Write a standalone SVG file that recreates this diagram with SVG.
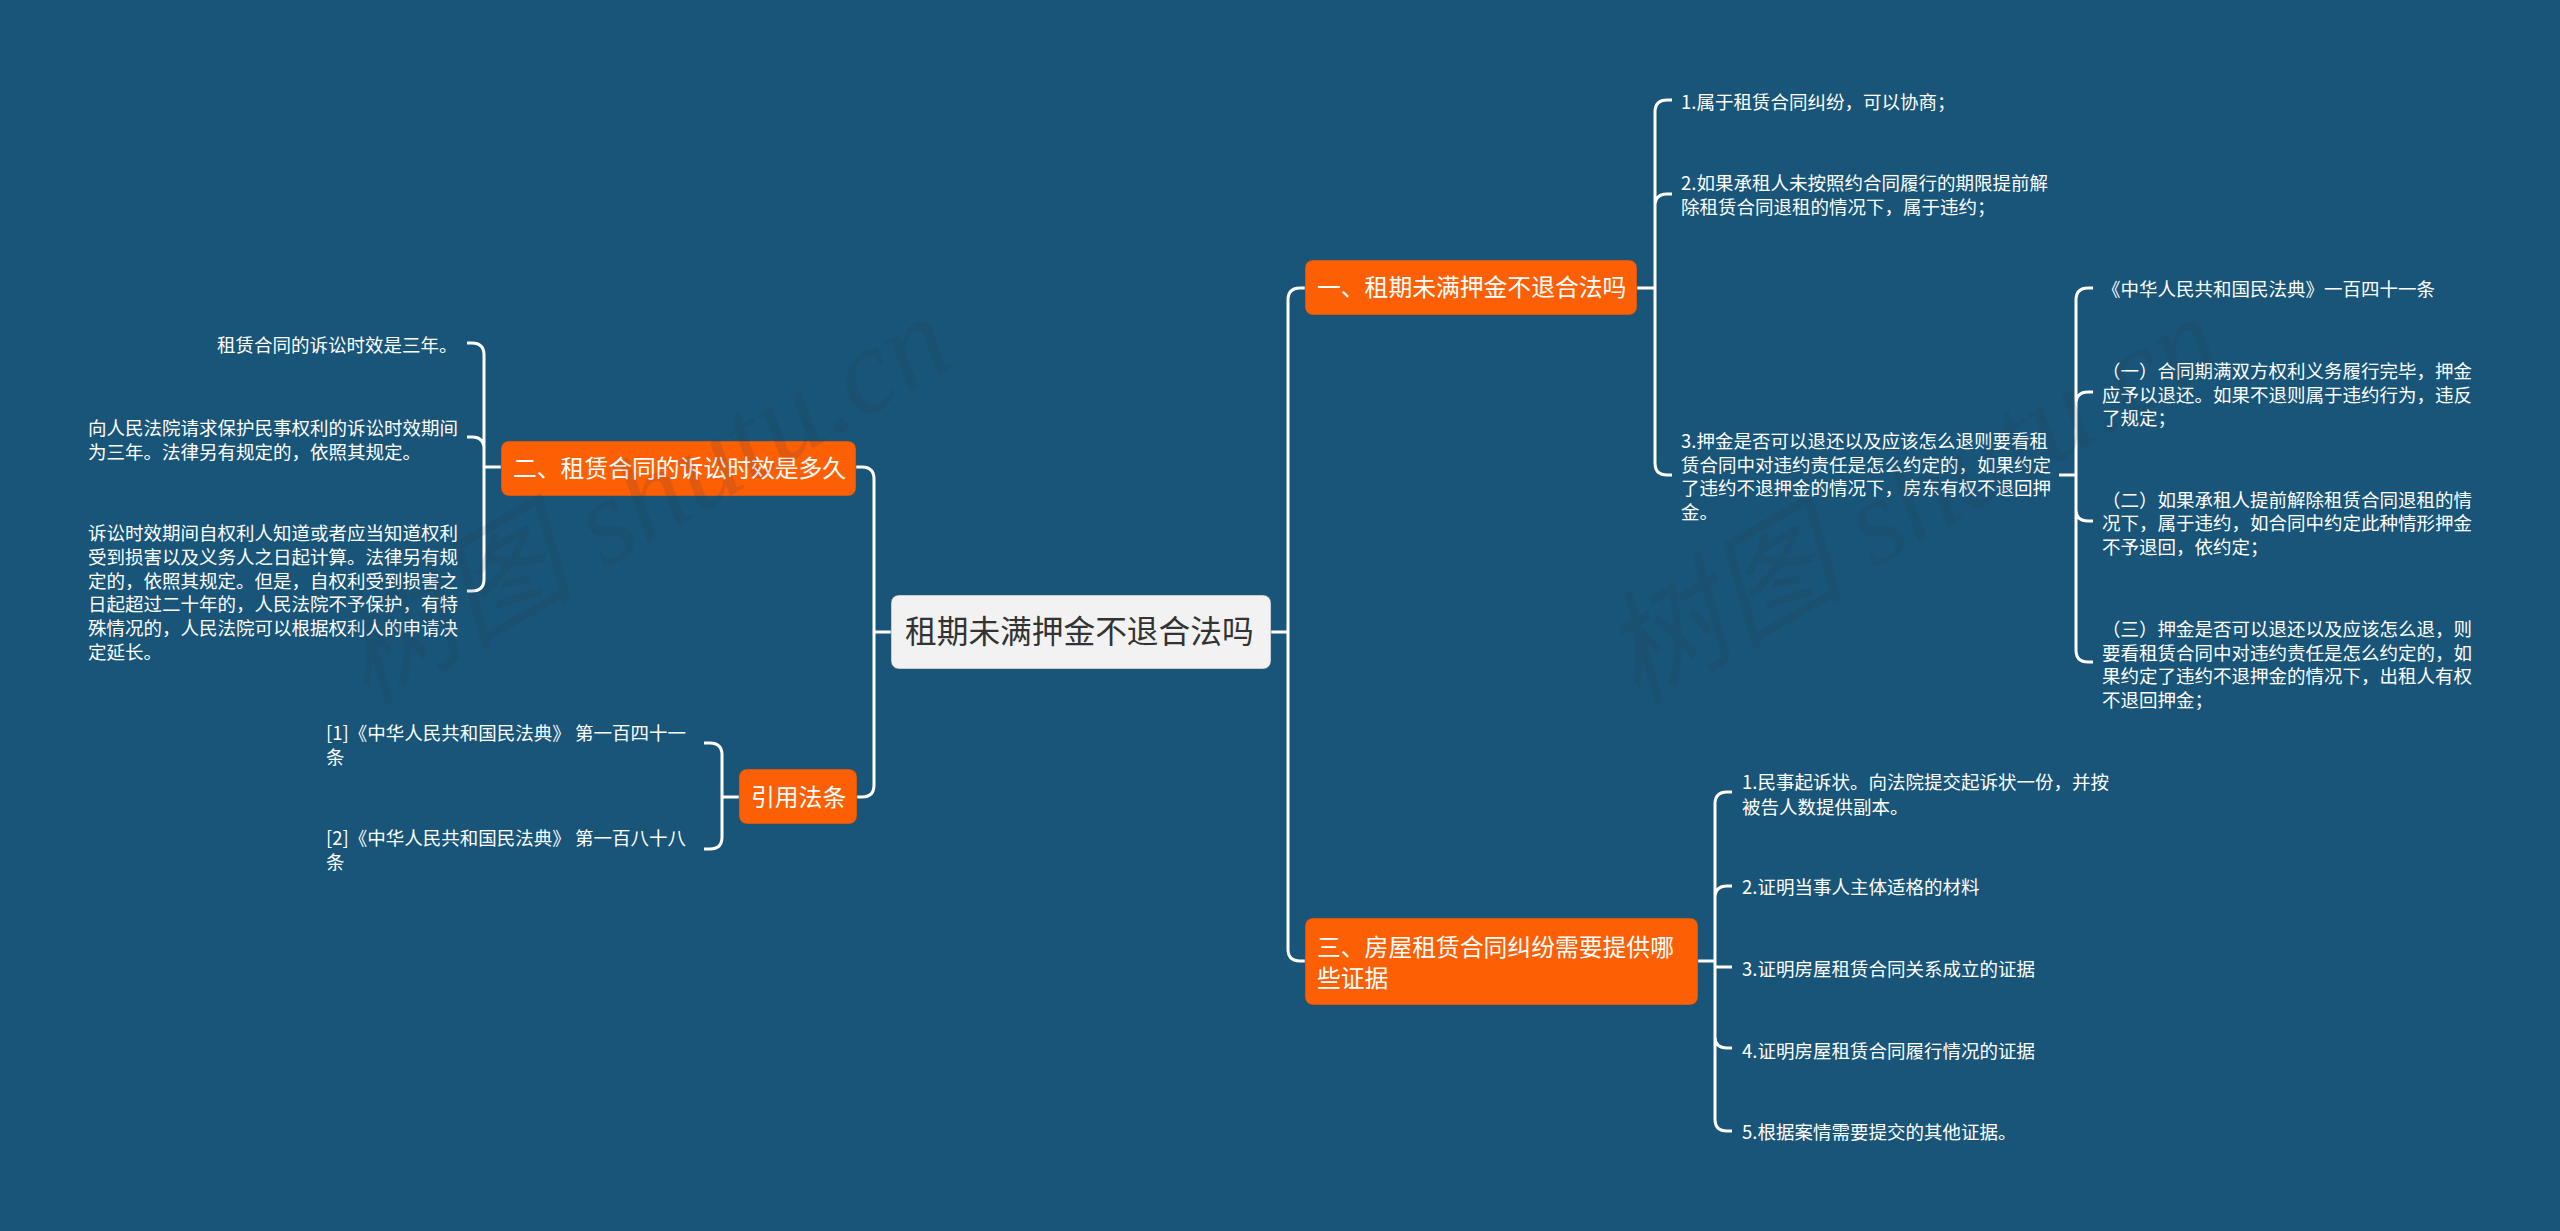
<svg xmlns="http://www.w3.org/2000/svg" width="2560" height="1231" viewBox="0 0 2560 1231">
<style>
text{font-family:"Noto Sans CJK SC","Liberation Sans",sans-serif}
.leaf{font-size:18.5px;fill:#fff}
.sec{font-size:23.8px;fill:#fff}
.root{font-size:31.7px;fill:#333}
.box{fill:#fd5f05;stroke:#3f4c58;stroke-width:1;stroke-opacity:.5}
.rootbox{fill:#f2f2f2;stroke:#3f5c70;stroke-width:1;stroke-opacity:.5}
#connectors path{fill:none;stroke:#fff;stroke-width:3;stroke-linecap:butt}
.wm{font-family:"Liberation Serif","Noto Sans CJK SC",serif;font-style:italic;font-size:122px;fill:#2a3a4a;fill-opacity:.14}
</style>
<rect width="2560" height="1231" fill="#185579"/>
<g id="connectors">
<path d="M1271 632H1288M1305 288H1300Q1288 288 1288 300V949Q1288 961 1300 961H1305"/>
<path d="M891 632H874M856 467H862Q874 467 874 479V785Q874 797 862 797H857"/>
<path d="M1637 288H1655M1672 100H1667Q1655 100 1655 112V463Q1655 475 1667 475H1672M1672 194H1667Q1655 194 1655 206"/>
<path d="M2059 475H2076M2093 288H2088Q2076 288 2076 300V650Q2076 662 2088 662H2093M2093 392H2088Q2076 392 2076 404M2093 521H2088Q2076 521 2076 509"/>
<path d="M501 467H484M467 343H472Q484 343 484 355V579Q484 591 472 591H467M467 437H472Q484 437 484 449"/>
<path d="M739 797H722M704 743H710Q722 743 722 755V837Q722 849 710 849H704"/>
<path d="M1698 961H1715M1732 792H1727Q1715 792 1715 804V1119Q1715 1131 1727 1131H1732M1732 886H1727Q1715 886 1715 898M1732 967H1715M1732 1048H1727Q1715 1048 1715 1036"/>
</g>
<g id="root"><rect class="rootbox" x="891" y="595" width="380" height="74" rx="8"/><text class="root" x="905" y="643">租期未满押金不退合法吗</text></g>
<g id="sec1"><rect class="box" x="1305" y="260" width="332" height="55" rx="8"/><text class="sec" x="1317" y="296">一、租期未满押金不退合法吗</text></g>
<g id="sec2"><rect class="box" x="501" y="441" width="355" height="55" rx="8"/><text class="sec" x="513" y="477">二、租赁合同的诉讼时效是多久</text></g>
<g id="sec3"><rect class="box" x="1305" y="918" width="393" height="87" rx="8"/><text class="sec"><tspan x="1317" y="955.500">三、房屋租赁合同纠纷需要提供哪</tspan><tspan x="1317" y="986.500">些证据</tspan></text></g>
<g id="refs"><rect class="box" x="739" y="769" width="118" height="55" rx="8"/><text class="sec" x="751" y="805.500">引用法条</text></g>
<g id="a1"><text class="leaf" x="1681" y="108.500">1.属于租赁合同纠纷，可以协商；</text></g>
<g id="a2"><text class="leaf"><tspan x="1681" y="189.500">2.如果承租人未按照约合同履行的期限提前解</tspan><tspan x="1681" y="213.500">除租赁合同退租的情况下，属于违约；</tspan></text></g>
<g id="a3"><text class="leaf"><tspan x="1681" y="447.500">3.押金是否可以退还以及应该怎么退则要看租</tspan><tspan x="1681" y="471.500">赁合同中对违约责任是怎么约定的，如果约定</tspan><tspan x="1681" y="494.500">了违约不退押金的情况下，房东有权不退回押</tspan><tspan x="1681" y="518.500">金。</tspan></text></g>
<g id="a3-1"><text class="leaf" x="2102" y="295.500">《中华人民共和国民法典》一百四十一条</text></g>
<g id="a3-2"><text class="leaf"><tspan x="2102" y="377.500">（一）合同期满双方权利义务履行完毕，押金</tspan><tspan x="2102" y="401.500">应予以退还。如果不退则属于违约行为，违反</tspan><tspan x="2102" y="424.500">了规定；</tspan></text></g>
<g id="a3-3"><text class="leaf"><tspan x="2102" y="506.500">（二）如果承租人提前解除租赁合同退租的情</tspan><tspan x="2102" y="529.500">况下，属于违约，如合同中约定此种情形押金</tspan><tspan x="2102" y="553.500">不予退回，依约定；</tspan></text></g>
<g id="a3-4"><text class="leaf"><tspan x="2102" y="635.500">（三）押金是否可以退还以及应该怎么退，则</tspan><tspan x="2102" y="659.500">要看租赁合同中对违约责任是怎么约定的，如</tspan><tspan x="2102" y="682.500">果约定了违约不退押金的情况下，出租人有权</tspan><tspan x="2102" y="706.500">不退回押金；</tspan></text></g>
<g id="b1"><text class="leaf" x="217" y="351.500">租赁合同的诉讼时效是三年。</text></g>
<g id="b2"><text class="leaf"><tspan x="88" y="434.500">向人民法院请求保护民事权利的诉讼时效期间</tspan><tspan x="88" y="458.500">为三年。法律另有规定的，依照其规定。</tspan></text></g>
<g id="b3"><text class="leaf"><tspan x="88" y="539.500">诉讼时效期间自权利人知道或者应当知道权利</tspan><tspan x="88" y="563.500">受到损害以及义务人之日起计算。法律另有规</tspan><tspan x="88" y="587.500">定的，依照其规定。但是，自权利受到损害之</tspan><tspan x="88" y="610.500">日起超过二十年的，人民法院不予保护，有特</tspan><tspan x="88" y="634.500">殊情况的，人民法院可以根据权利人的申请决</tspan><tspan x="88" y="658.500">定延长。</tspan></text></g>
<g id="r1"><text class="leaf"><tspan x="326" y="739.500">[1]《中华人民共和国民法典》 第一百四十一</tspan><tspan x="326" y="763.500">条</tspan></text></g>
<g id="r2"><text class="leaf"><tspan x="326" y="844.500">[2]《中华人民共和国民法典》 第一百八十八</tspan><tspan x="326" y="868.500">条</tspan></text></g>
<g id="c1"><text class="leaf"><tspan x="1742" y="788.500">1.民事起诉状。向法院提交起诉状一份，并按</tspan><tspan x="1742" y="813.500">被告人数提供副本。</tspan></text></g>
<g id="c2"><text class="leaf" x="1742" y="893.500">2.证明当事人主体适格的材料</text></g>
<g id="c3"><text class="leaf" x="1742" y="975.500">3.证明房屋租赁合同关系成立的证据</text></g>
<g id="c4"><text class="leaf" x="1742" y="1057.500">4.证明房屋租赁合同履行情况的证据</text></g>
<g id="c5"><text class="leaf" x="1742" y="1138.500">5.根据案情需要提交的其他证据。</text></g>
<g id="watermarks">
<text class="wm" transform="translate(366 706) rotate(-30)">树图 shutu.cn</text>
<text class="wm" transform="translate(1636 706) rotate(-30)">树图 shutu.cn</text>
</g>
</svg>
